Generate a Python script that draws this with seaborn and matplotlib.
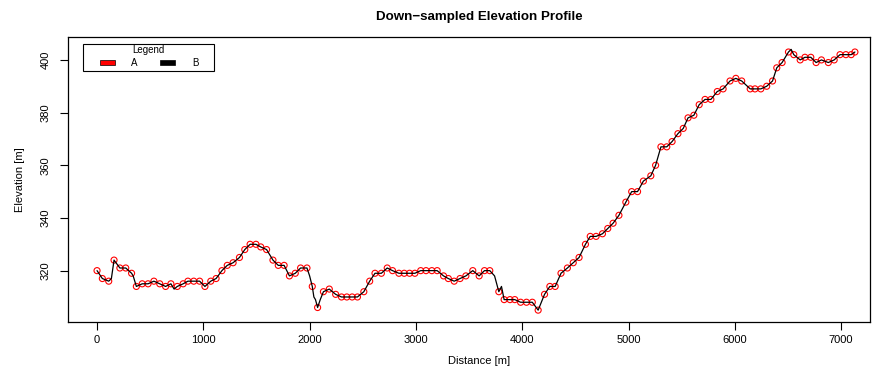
import matplotlib
matplotlib.use("Agg")
import matplotlib.pyplot as plt
from matplotlib.patches import Rectangle
import numpy as np
import pandas as pd
import seaborn as sns

# Down-sampled profile (series A): distance along track [m] and elevation [m]
distance_a = [
    0, 50, 110, 160, 215, 270, 325, 370, 425, 480,
    535, 590, 645, 695, 755, 810, 855, 910, 965, 1015,
    1070, 1120, 1175, 1225, 1280, 1340, 1390, 1440, 1495, 1540,
    1595, 1655, 1705, 1760, 1810, 1865, 1915, 1975, 2025, 2075,
    2130, 2185, 2245, 2300, 2350, 2400, 2450, 2510, 2565, 2615,
    2675, 2730, 2780, 2840, 2890, 2940, 2990, 3045, 3095, 3150,
    3200, 3260, 3305, 3360, 3415, 3470, 3535, 3595, 3645, 3695,
    3780, 3830, 3885, 3930, 3985, 4040, 4095, 4150, 4210, 4260,
    4310, 4365, 4425, 4480, 4535, 4595, 4640, 4695, 4755, 4805,
    4855, 4910, 4975, 5030, 5085, 5140, 5210, 5255, 5305, 5360,
    5410, 5465, 5515, 5560, 5615, 5665, 5720, 5775, 5835, 5890,
    5955, 6010, 6065, 6145, 6190, 6245, 6300, 6355, 6395, 6445,
    6505, 6555, 6615, 6660, 6715, 6765, 6815, 6880, 6935, 6990,
    7045, 7095, 7130,
]
elevation_a = [
    320, 317, 316, 324, 321, 321, 319, 314, 315, 315,
    316, 315, 314, 315, 314, 315, 316, 316, 316, 314,
    316, 317, 320, 322, 323, 325, 328, 330, 330, 329,
    328, 324, 322, 322, 318, 319, 321, 321, 314, 306,
    312, 313, 311, 310, 310, 310, 310, 312, 316, 319,
    319, 321, 320, 319, 319, 319, 319, 320, 320, 320,
    320, 318, 317, 316, 317, 318, 320, 318, 320, 320,
    312, 309, 309, 309, 308, 308, 308, 305, 311, 314,
    314, 319, 321, 323, 325, 330, 333, 333, 334, 336,
    338, 341, 346, 350, 350, 354, 356, 360, 367, 367,
    369, 372, 374, 378, 379, 383, 385, 385, 388, 389,
    392, 393, 392, 389, 389, 389, 390, 392, 397, 399,
    403, 402, 400, 401, 401, 399, 400, 399, 400, 402,
    402, 402, 403,
]

# Full-resolution profile (series B): the sampled points plus the extra
# vertices of the original track between them
extra_distance_b = [135, 340, 725, 2000, 2040, 2055, 2100, 3740, 3805, 6530]
extra_elevation_b = [317, 318, 313, 318, 310, 309, 309, 318, 314, 404]

legend_title = "Legend"
legend_labels = ["A", "B"]
series_colors = ["red", "black"]

x_ticks = [0, 1000, 2000, 3000, 4000, 5000, 6000, 7000]
y_ticks = [320, 340, 360, 380, 400]

df_a = pd.DataFrame({"distance": distance_a, "elevation": elevation_a})
df_b = (
    pd.concat(
        [
            df_a,
            pd.DataFrame({"distance": extra_distance_b, "elevation": extra_elevation_b}),
        ]
    )
    .sort_values("distance")
    .reset_index(drop=True)
)

sns.set_theme(style="white")
plt.rcParams["font.family"] = ["Liberation Sans", "DejaVu Sans"]
plt.rcParams.update({
    "text.color": "black",
    "axes.labelcolor": "black",
    "xtick.color": "black",
    "ytick.color": "black",
})

W, H = 873, 369
fig = plt.figure(figsize=(W / 100, H / 100), dpi=100)
left, right, top, bottom = 67.7, 870, 37, 322
ax = fig.add_axes([left / W, 1 - bottom / H, (right - left) / W, (bottom - top) / H])

sns.scatterplot(
    data=df_a, x="distance", y="elevation", ax=ax,
    marker="o", s=19, color=series_colors[0],
    facecolor="none", edgecolor=series_colors[0], linewidth=0.8, zorder=2,
)
sns.lineplot(
    data=df_b, x="distance", y="elevation", ax=ax,
    sort=False, estimator=None, color=series_colors[1], linewidth=0.9, zorder=3,
)

ax.set_xlim(-276, 7272)
ax.set_ylim(300.5, 408.7)
ax.set_xticks(x_ticks)
ax.set_yticks(y_ticks)
ax.set_xticklabels([str(t) for t in x_ticks])
ax.set_yticklabels([str(t) for t in y_ticks])
ax.tick_params(axis="both", which="major", direction="out", length=6, width=0.8,
               color="black", labelcolor="black", labelsize=8, bottom=True, left=True)
ax.tick_params(axis="x", pad=3.5)
ax.tick_params(axis="y", pad=6.5)
plt.setp(ax.get_yticklabels(), rotation=90, va="center")

for s in ax.spines.values():
    s.set_visible(True)
    s.set_color("black")
    s.set_linewidth(0.9)
ax.grid(False)

# Title and x-axis label share the same horizontal centre line
text_center_x = 479 / W
ax.set_xlabel("Distance [m]", fontsize=8, labelpad=6.5)
ax.xaxis.set_label_coords(text_center_x, 1 - 361 / H, transform=fig.transFigure)
ax.xaxis.label.set_va("center")
ax.set_ylabel("Elevation [m]", fontsize=8, labelpad=11)
fig.text(text_center_x, 1 - 17 / H, "Down\u2212sampled Elevation Profile",
         ha="center", va="center", fontsize=9.6, fontweight="bold")


def fig_rect(x0, y0, x1, y1, **kw):
    """Rectangle given in pixel coordinates from the top-left corner."""
    r = Rectangle((x0 / W, 1 - y1 / H), (x1 - x0) / W, (y1 - y0) / H,
                  transform=fig.transFigure, **kw)
    fig.add_artist(r)
    return r


# Legend box: title on top, the two series keys side by side below
fig_rect(83, 44, 214, 71, facecolor="white", edgecolor="black", linewidth=0.8, zorder=5)
fig.text(148 / W, 1 - 50 / H, legend_title, ha="center", va="center",
         fontsize=7.0, zorder=6)
key_x = [99.5, 160]
label_x = [134.5, 195]
for kx, lx, col, lab in zip(key_x, label_x, series_colors, legend_labels):
    fig_rect(kx, 60, kx + 15, 65, facecolor=col, edgecolor="black",
             linewidth=0.5, zorder=6)
    fig.text(lx / W, 1 - 62.5 / H, lab, ha="center", va="center",
             fontsize=7.0, zorder=6)

fig.savefig("out.png", dpi=100)
